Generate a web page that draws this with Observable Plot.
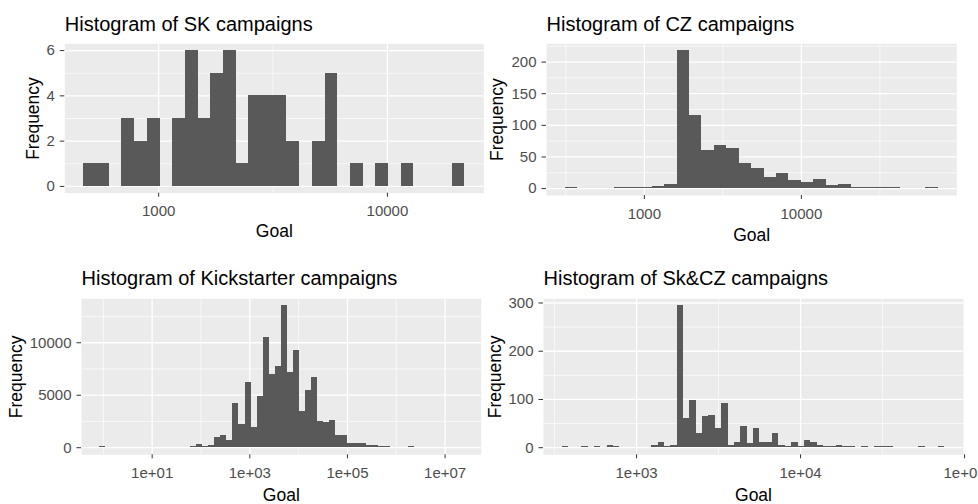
<!DOCTYPE html>
<html><head><meta charset="utf-8">
<script src="https://cdn.jsdelivr.net/npm/d3@7"></script>
<script src="https://cdn.jsdelivr.net/npm/@observablehq/plot@0.6"></script>
<style>
html,body{margin:0;padding:0;background:#fff;}
#root{position:relative;width:978px;height:504px;overflow:hidden;background:#fff;}
#root svg{position:absolute;overflow:visible;}
</style></head><body><div id="root"></div>
<script>
// ---------- SK campaigns (30 bins, log10 goal) ----------
const skTitle = "Histogram of SK campaigns";
const skCounts = [1,1,0,3,2,3,0,3,6,3,5,6,1,4,4,4,2,0,2,5,0,1,0,1,0,1,0,0,0,1];
const skBinRange = [471, 21780];
const skXTicks = [1000, 10000];
const skXLabels = ["1000", "10000"];
const skXMinor = [3162];
const skYTicks = [0, 2, 4, 6];
const skYLabels = ["0", "2", "4", "6"];
const skYMinor = [1, 3, 5];

// ---------- CZ campaigns (30 bins) ----------
const czTitle = "Histogram of CZ campaigns";
const czCounts = [1,0,0,0,1,1,1,4,7,218,115,60,68,64,39,32,18,24,13,10,15,5,7,1,1,1,1,0,0,1];
const czBinRange = [313, 74300];
const czXTicks = [1000, 10000];
const czXLabels = ["1000", "10000"];
const czXMinor = [316.2, 3162, 31623];
const czYTicks = [0, 50, 100, 150, 200];
const czYLabels = ["0", "50", "100", "150", "200"];
const czYMinor = [25, 75, 125, 175, 225];

// ---------- Kickstarter campaigns (60 bins) ----------
const ksTitle = "Histogram of Kickstarter campaigns";
const ksCounts = [100,0,0,0,0,0,0,0,0,0,0,0,0,0,50,80,330,130,220,930,
  1180,670,4220,2240,6170,1890,4920,10540,7000,7730,13510,7120,9230,3480,5430,6650,2520,2360,2620,1180,
  1180,430,420,410,190,180,90,80,50,20,0,80,0,0,0,0,0,0,0,1];
const ksBinRange = [0.841, 2.33e7];
const ksXTicks = [10, 1000, 1e5, 1e7];
const ksXLabels = ["1e+01", "1e+03", "1e+05", "1e+07"];
const ksXMinor = [1, 100, 1e4, 1e6];
const ksYTicks = [0, 5000, 10000];
const ksYLabels = ["0", "5000", "10000"];
const ksYMinor = [2500, 7500, 12500];

// ---------- Sk&CZ campaigns (60 bins) ----------
const bothTitle = "Histogram of Sk&CZ campaigns";
const bothCounts = [2,0,0,2,0,2,0,5,2,0,1,1,1,1,5,11,2,5,294,61,
  98,29,64,66,40,91,5,11,45,8,39,10,10,29,5,2,10,2,14,10,
  5,2,2,5,2,2,0,2,0,2,2,2,0,0,0,0,2,0,0,2];
const bothBinRange = [354, 75340];
const bothXTicks = [1000, 10000, 100000];
const bothXLabels = ["1e+03", "1e+04", "1e+05"];
const bothXMinor = [316.2, 3162, 31623];
const bothYTicks = [0, 100, 200, 300];
const bothYLabels = ["0", "100", "200", "300"];
const bothYMinor = [50, 150, 250];

const FONT = "'Liberation Sans', Arial, Helvetica, sans-serif";

function drawPanel(p) {
  const n = p.counts.length;
  const l0 = Math.log10(p.range[0]), l1 = Math.log10(p.range[1]);
  const step = (l1 - l0) / n;
  const bins = p.counts.map((c, k) => ({x1: 10 ** (l0 + k * step), x2: 10 ** (l0 + (k + 1) * step), y1: 0, count: c}));
  const pad = 0.05 * (l1 - l0);
  const M = d3.max(p.counts);
  const xLab = new Map(p.xTicks.map((t, i) => [t, p.xLabels[i]]));
  const yLab = new Map(p.yTicks.map((t, i) => [t, p.yLabels[i]]));
  const svg = Plot.plot({
    width: p.w, height: p.h,
    marginLeft: p.ml, marginRight: p.mr, marginTop: p.mt, marginBottom: p.mb,
    x: {type: "log", domain: [10 ** (l0 - pad), 10 ** (l1 + pad)], axis: null},
    y: {domain: [-0.05 * M, 1.05 * M], axis: null},
    style: {fontFamily: FONT, fontSize: "15px", background: "transparent", overflow: "visible"},
    marks: [
      Plot.frame({fill: "#EBEBEB", stroke: "none"}),
      Plot.gridX(p.xMinor, {stroke: "#FFFFFF", strokeOpacity: 1, strokeWidth: 0.65}),
      Plot.gridY(p.yMinor, {stroke: "#FFFFFF", strokeOpacity: 1, strokeWidth: 0.65}),
      Plot.gridX(p.xTicks, {stroke: "#FFFFFF", strokeOpacity: 1, strokeWidth: 1.3}),
      Plot.gridY(p.yTicks, {stroke: "#FFFFFF", strokeOpacity: 1, strokeWidth: 1.3}),
      Plot.rect(bins, {x1: "x1", x2: "x2", y1: "y1", y2: "count", fill: "#595959",
        shapeRendering: "crispEdges", filter: d => d.count > 0}),
      Plot.axisX(p.xTicks, {anchor: "bottom", tickFormat: d => xLab.get(d), tickSize: 4, tickPadding: 8.5,
        stroke: "#333333", fill: "#4D4D4D", fontSize: 15, label: null}),
      Plot.axisY(p.yTicks, {anchor: "left", tickFormat: d => yLab.get(d), tickSize: 4.5, tickPadding: 5.5,
        stroke: "#333333", fill: "#4D4D4D", fontSize: 15, label: null}),
      Plot.text([p.title], {frameAnchor: "top-left", textAnchor: "start", lineAnchor: "middle", dy: p.titleDy, fontSize: 20, fill: "#000000"}),
      Plot.text(["Goal"], {frameAnchor: "bottom", textAnchor: "middle", lineAnchor: "middle", dy: p.goalDy, fontSize: 17.5, fill: "#000000"}),
      Plot.text(["Frequency"], {frameAnchor: "left", textAnchor: "middle", lineAnchor: "middle", rotate: -90, dx: p.freqDx, fontSize: 17.5, fill: "#000000"})
    ]
  });
  svg.style.left = p.left + "px";
  svg.style.top = p.top + "px";
  document.getElementById("root").appendChild(svg);
}

drawPanel({title: skTitle, counts: skCounts, range: skBinRange, xTicks: skXTicks, xLabels: skXLabels, xMinor: skXMinor,
  yTicks: skYTicks, yLabels: skYLabels, yMinor: skYMinor,
  left: 0, top: 0, w: 489, h: 252, ml: 64.3, mr: 5.7, mt: 43.3, mb: 59.3, titleDy: -19.7, goalDy: 38.4, freqDx: -31.2});
drawPanel({title: czTitle, counts: czCounts, range: czBinRange, xTicks: czXTicks, xLabels: czXLabels, xMinor: czXMinor,
  yTicks: czYTicks, yLabels: czYLabels, yMinor: czYMinor,
  left: 489, top: 0, w: 489, h: 252, ml: 57, mr: 21.7, mt: 43.3, mb: 57, titleDy: -19.7, goalDy: 39.4, freqDx: -48.7});
drawPanel({title: ksTitle, counts: ksCounts, range: ksBinRange, xTicks: ksXTicks, xLabels: ksXLabels, xMinor: ksXMinor,
  yTicks: ksYTicks, yLabels: ksYLabels, yMinor: ksYMinor,
  left: 0, top: 252, w: 489, h: 252, ml: 81, mr: 8.3, mt: 46.3, mb: 49.7, titleDy: -20.4, goalDy: 40.1, freqDx: -64.7});
drawPanel({title: bothTitle, counts: bothCounts, range: bothBinRange, xTicks: bothXTicks, xLabels: bothXLabels, xMinor: bothXMinor,
  yTicks: bothYTicks, yLabels: bothYLabels, yMinor: bothYMinor,
  left: 489, top: 252, w: 489, h: 252, ml: 54, mr: 15, mt: 46.3, mb: 49.7, titleDy: -20.4, goalDy: 40.3, freqDx: -48.2});
</script>
</body></html>
